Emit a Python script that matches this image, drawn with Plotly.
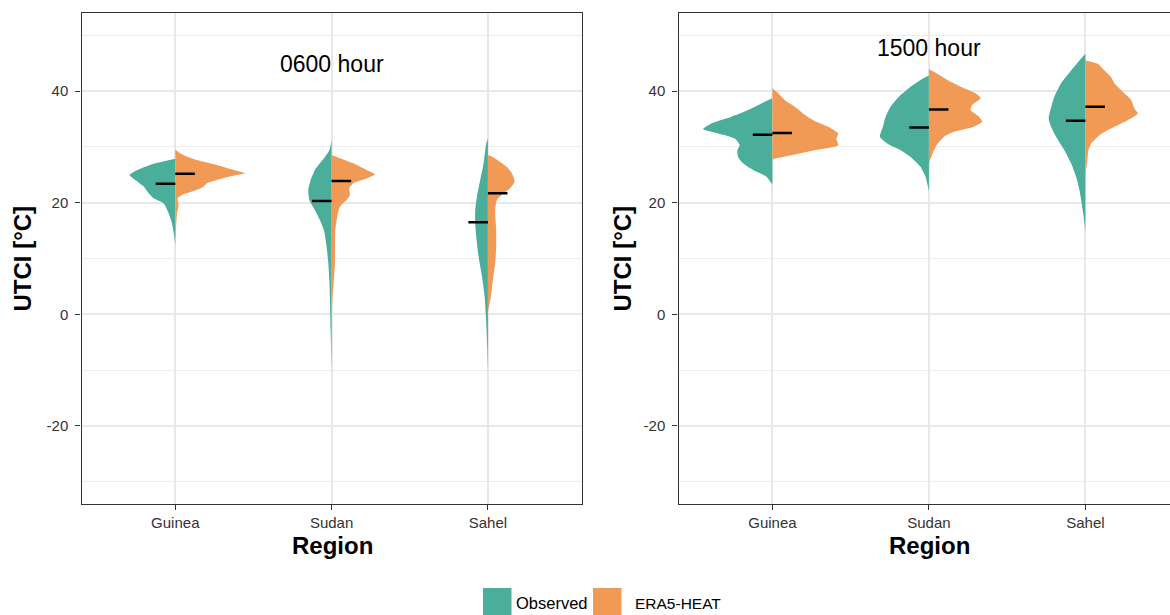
import plotly.graph_objects as go

REGIONS = ["Guinea", "Sudan", "Sahel"]
SERIES = ["Observed", "ERA5-HEAT"]
HOURS = ["0600 hour", "1500 hour"]
Y_TICKS = [-20, 0, 20, 40]
Y_TICK_TEXT = ["-20", "0", "20", "40"]

# Half-violin outlines: UTCI levels (°C, top to bottom) and density half-widths.
# ---- 0600 hour ----
obs_0600_guinea_y = [27.9, 27.0, 25.85, 24.95, 24.06, 22.9, 21.7, 20.8, 19.9, 18.1, 16.3, 13.9, 12.4]
obs_0600_guinea_w = [0, 21.7, 38, 45.7, 40, 31.7, 26.7, 21.7, 11.7, 6.7, 3.3, 1, 0]
era_0600_guinea_y = [29.55, 28.84, 27.64, 26.74, 25.85, 25.26, 24.83, 24.24, 23.47, 22.86, 22.27, 21.38, 20.79, 19.59, 18.1, 15.1, 12.7]
era_0600_guinea_w = [0, 5, 21.7, 41.7, 58.3, 70, 58, 45, 31.7, 28.3, 21, 6.7, 2.3, 3.3, 1.7, 0.7, 0]

obs_0600_sudan_y = [31.2, 29.4, 28.2, 27.05, 25.85, 24.06, 22.27, 20.5, 18.7, 16.9, 15.1, 12.1, 9.2, 6.2, 3.2, -2.8, -10.2]
obs_0600_sudan_w = [0, 2.3, 6.7, 11.7, 16.7, 21, 23.3, 22.3, 16.7, 11.7, 7.7, 5, 3.3, 2.3, 1.7, 1, 0]
era_0600_sudan_y = [28.5, 28.2, 27.05, 25.85, 25.1, 24.35, 23.5, 22.6, 21.4, 20.5, 19.3, 17.5, 15.1, 9.2, 6.2, 3.2, 0.8]
era_0600_sudan_w = [0, 5, 21.7, 35, 43.3, 35, 21.7, 17.7, 18.3, 15, 8.3, 5.7, 3.7, 3.3, 2.3, 1, 0]

obs_0600_sahel_y = [31.5, 30.6, 29.4, 27.05, 24.06, 21.07, 18.7, 16.3, 13.9, 10.3, 6.8, 3.2, -0.4, -5.8, -10.2]
obs_0600_sahel_w = [0, 1.7, 2.7, 4.3, 7.7, 11, 12.7, 12.7, 11.7, 9.3, 6, 3.3, 2, 0.7, 0]
era_0600_sahel_y = [28.5, 28.3, 27.3, 26.4, 25.3, 23.8, 22.6, 21.7, 20.5, 18.7, 15.1, 12.1, 9.2, 6.2, 3.2, 0.5]
era_0600_sahel_w = [0, 4, 12.3, 19, 24, 26.7, 22.3, 15.7, 9, 7.3, 8.3, 8.3, 7.3, 5, 3, 0]

# ---- 1500 hour ----
obs_1500_guinea_y = [38.7, 37.8, 36.6, 35.4, 34.2, 33.2, 32.4, 31.5, 30.3, 29.4, 28.2, 27.05, 25.85, 24.65, 23.2]
obs_1500_guinea_w = [0, 11, 24.3, 41, 61, 69.3, 54.3, 37.7, 32.7, 35, 34.3, 29.3, 19.3, 6, 0]
era_1500_guinea_y = [40.5, 39.6, 38.4, 37.2, 36.0, 34.8, 33.6, 32.4, 31.5, 30.3, 29.4, 28.5, 27.8, 27.6]
era_1500_guinea_w = [0, 5.7, 12.3, 22.3, 30.7, 40.7, 55.7, 65.7, 64, 65.7, 42.3, 19, 1, 0]

obs_1500_sudan_y = [42.8, 42.0, 40.8, 39.0, 37.2, 35.4, 33.6, 31.8, 30.6, 29.4, 28.2, 26.4, 24.65, 22.9, 22.0]
obs_1500_sudan_w = [0, 8.3, 18.3, 30, 38.3, 43.3, 46, 49, 41.7, 28.3, 18.3, 8.3, 3.3, 1, 0]
era_1500_sudan_y = [43.9, 43.1, 42.0, 40.8, 39.6, 38.7, 37.5, 36.6, 35.4, 34.5, 33.6, 32.7, 31.8, 30.0, 28.2, 27.05]
era_1500_sudan_w = [0, 8.3, 18.3, 31.7, 46.7, 51.7, 43.3, 41.7, 50, 53.3, 45, 25, 15, 6.7, 2.3, 0]

obs_1500_sahel_y = [46.7, 45.5, 43.7, 41.4, 39.0, 36.6, 35.1, 33.6, 31.8, 29.4, 27.05, 24.65, 22.3, 19.9, 17.5, 14.8]
obs_1500_sahel_w = [0, 6, 14.3, 24.3, 31, 35, 36.7, 34.3, 29.3, 21, 14.3, 9.3, 6, 3.7, 1.7, 0]
era_1500_sahel_y = [45.5, 44.9, 43.7, 42.5, 41.4, 39.6, 38.4, 36.9, 36.0, 34.8, 33.6, 32.1, 30.6, 29.4, 27.05, 25.3]
era_1500_sahel_w = [0, 12.3, 19, 25.7, 29, 39, 45.7, 49, 52.3, 42.3, 29, 14, 5.7, 3, 1.7, 0]

# Medians per region
obs_median_0600 = [23.4, 20.3, 16.5]
era_median_0600 = [25.2, 23.9, 21.7]
obs_median_1500 = [32.2, 33.5, 34.7]
era_median_1500 = [32.5, 36.7, 37.2]

TEAL = "rgb(75,174,155)"
ORANGE = "rgb(241,154,86)"
FONT = "Liberation Sans, Arial, Helvetica, sans-serif"
DENSITY_SCALE = 156.5   # density units per category step
MEDIAN_LEN = 0.125      # length of median bars in category units

panels = [
    {
        "xa": "x", "ya": "y",
        "obs": [(obs_0600_guinea_y, obs_0600_guinea_w), (obs_0600_sudan_y, obs_0600_sudan_w), (obs_0600_sahel_y, obs_0600_sahel_w)],
        "era": [(era_0600_guinea_y, era_0600_guinea_w), (era_0600_sudan_y, era_0600_sudan_w), (era_0600_sahel_y, era_0600_sahel_w)],
        "obs_med": obs_median_0600, "era_med": era_median_0600,
    },
    {
        "xa": "x2", "ya": "y2",
        "obs": [(obs_1500_guinea_y, obs_1500_guinea_w), (obs_1500_sudan_y, obs_1500_sudan_w), (obs_1500_sahel_y, obs_1500_sahel_w)],
        "era": [(era_1500_guinea_y, era_1500_guinea_w), (era_1500_sudan_y, era_1500_sudan_w), (era_1500_sahel_y, era_1500_sahel_w)],
        "obs_med": obs_median_1500, "era_med": era_median_1500,
    },
]

fig = go.Figure()


def half_violin(pos, ys, ws, side, color, xa, ya):
    xs = [pos + side * w / DENSITY_SCALE for w in ws]
    return go.Scatter(
        x=xs, y=ys, xaxis=xa, yaxis=ya, mode="lines", fill="toself",
        fillcolor=color, line=dict(width=0, color=color, shape="spline", smoothing=0.6),
        hoverinfo="skip", showlegend=False,
    )


for p in panels:
    for i, region in enumerate(REGIONS):
        pos = i + 1
        ys, ws = p["obs"][i]
        fig.add_trace(half_violin(pos, ys, ws, -1, TEAL, p["xa"], p["ya"]))
        ys, ws = p["era"][i]
        fig.add_trace(half_violin(pos, ys, ws, 1, ORANGE, p["xa"], p["ya"]))
    # median bars
    mx, my = [], []
    for i, v in enumerate(p["obs_med"]):
        mx += [i + 1 - MEDIAN_LEN, i + 1, None]
        my += [v, v, None]
    for i, v in enumerate(p["era_med"]):
        mx += [i + 1, i + 1 + MEDIAN_LEN, None]
        my += [v, v, None]
    fig.add_trace(go.Scatter(x=mx, y=my, xaxis=p["xa"], yaxis=p["ya"], mode="lines",
                             line=dict(color="black", width=2.5), hoverinfo="skip",
                             showlegend=False))

W, H = 1170, 615
PX_PER_CAT = 156.5


def px(x):
    return x / W


def py(y):
    return 1 - y / H


common_x = dict(
    tickvals=[1, 2, 3], ticktext=REGIONS, showgrid=True, gridcolor="#e8e8e8", gridwidth=1.6,
    ticks="outside", ticklen=5, tickwidth=1.4, tickcolor="#333333",
    showline=True, linecolor="#333333", linewidth=1.4, mirror=True,
    tickfont=dict(family=FONT, size=15, color="#333333"), zeroline=False,
)
common_y = dict(
    range=[-34, 54], tickvals=Y_TICKS, ticktext=Y_TICK_TEXT, showgrid=True, gridcolor="#e8e8e8", gridwidth=1.6,
    minor=dict(tickvals=[-30, -10, 10, 30, 50], showgrid=True, gridcolor="#ededed", gridwidth=1.0, ticks=""),
    ticks="outside", ticklen=5, tickwidth=1.4, tickcolor="#333333",
    showline=True, linecolor="#333333", linewidth=1.4,
    tickfont=dict(family=FONT, size=15, color="#333333"), zeroline=False,
    ticklabelstandoff=4,
)

left_x0, left_x1 = 81.5, 581.7
right_x0 = 678.5
top_y, bot_y = 13, 504

fig.update_layout(
    width=W, height=H, margin=dict(l=0, r=0, t=0, b=0),
    paper_bgcolor="white", plot_bgcolor="white", showlegend=False,
    xaxis=dict(domain=[px(left_x0), px(left_x1)], range=[0.4, 3.6], anchor="y", **common_x),
    yaxis=dict(domain=[py(bot_y), py(top_y)], anchor="x", mirror=True, **common_y),
    xaxis2=dict(domain=[px(right_x0), 1.0], range=[0.4, 0.4 + (W - right_x0) / PX_PER_CAT], anchor="y2", **common_x),
    yaxis2=dict(domain=[py(bot_y), py(top_y)], anchor="x2", mirror=False, **common_y),
)


def label(text, x, y, size, xanchor="center", angle=0, **kw):
    return dict(text=text, x=px(x), y=py(y), xref="paper", yref="paper", showarrow=False,
                xanchor=xanchor, yanchor="middle", textangle=angle,
                font=dict(family=FONT, size=size, color="black"), **kw)


annotations = [
    dict(text=HOURS[0], x=2, y=44.8, xref="x", yref="y", showarrow=False,
         xanchor="center", yanchor="middle", font=dict(family=FONT, size=23, color="black")),
    dict(text=HOURS[1], x=2, y=47.8, xref="x2", yref="y2", showarrow=False,
         xanchor="center", yanchor="middle", font=dict(family=FONT, size=23, color="black")),
    label("<b>Region</b>", 332, 545, 24),
    label("<b>Region</b>", 929, 545, 24),
    label("<b>UTCI [°C]</b>", 22, 258.5, 24, angle=-90),
    label("<b>UTCI [°C]</b>", 622, 258.5, 24, angle=-90),
    label(SERIES[0], 514, 603, 16.5, xanchor="left"),
    label(SERIES[1], 633, 603, 15.5, xanchor="left"),
]
fig.update_layout(annotations=annotations)

# legend keys
fig.add_shape(type="rect", xref="paper", yref="paper", x0=px(483), x1=px(511.5),
              y0=py(615), y1=py(588), fillcolor=TEAL, line=dict(width=0))
fig.add_shape(type="rect", xref="paper", yref="paper", x0=px(593), x1=px(621.5),
              y0=py(615), y1=py(588), fillcolor=ORANGE, line=dict(width=0))

fig.write_html("out.html")
